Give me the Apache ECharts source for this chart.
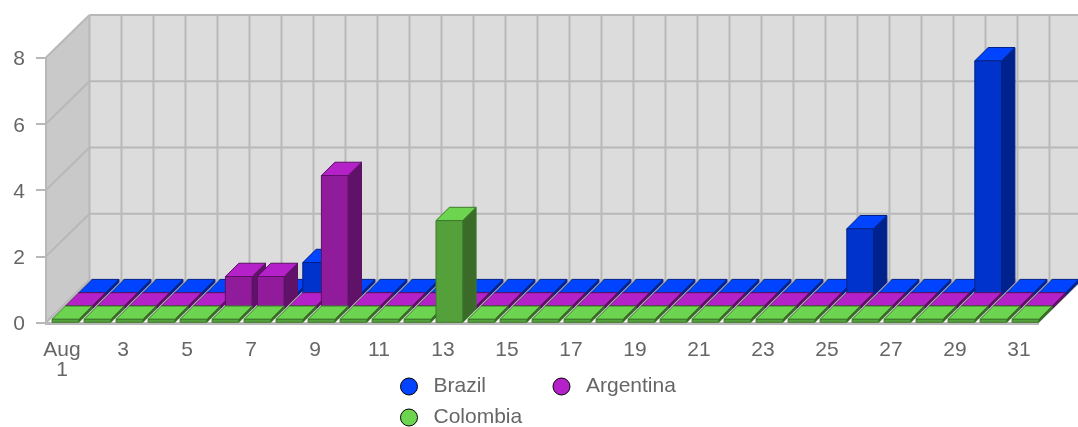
<!DOCTYPE html>
<html><head><meta charset="utf-8">
<style>html,body{margin:0;padding:0;background:#fff}#c{width:1078px;height:427px}</style>
<script src="https://cdn.jsdelivr.net/npm/echarts@6/dist/echarts.min.js"></script>
</head><body><div id="c"></div>
<script>
const days = ['Aug\n1','2','3','4','5','6','7','8','9','10','11','12','13','14','15','16','17','18','19','20','21','22','23','24','25','26','27','28','29','30','31'];
const brazil =    [0,0,0,0,0,0,0,1,0,0,0,0,0,0,0,0,0,0,0,0,0,0,0,0,2.02,0,0,0,7.09,0,0];
const argentina = [0,0,0,0,0,0.98,0.98,0,4.03,0,0,0,0,0,0,0,0,0,0,0,0,0,0,0,0,0,0,0,0,0,0];
const colombia =  [0,0,0,0,0,0,0,0,0,0,0,0,3.07,0,0,0,0,0,0,0,0,0,0,0,0,0,0,0,0,0,0];
const yTicks = [0,2,4,6,8];

const WALL_DX = 43.5, WALL_DY = -42.5, ROW_DX = 13.4, ROW_DY = -13.3, BAR_W = 26.7, BAR_X = 6, FLAT_H = 3;
const GRID_COLOR = '#b8b8b8';
const FONT = '"Liberation Sans", Arial, sans-serif';
const FS = 21;

function line(x1,y1,x2,y2,w){
  return {type:'line',shape:{x1,y1,x2,y2},style:{stroke:GRID_COLOR,lineWidth:w||2,fill:null},silent:true};
}
function poly(points,fill,stroke){
  return {type:'polygon',shape:{points},style:{fill,stroke:stroke||null,lineWidth:stroke?1:0},silent:true};
}

function renderWalls(params,api){
  const band = api.size([1,0])[0];
  const x0 = api.coord([0,0])[0]-band/2;
  const x1 = x0+band*days.length;
  const y0 = api.coord([0,0])[1];
  const yTop = api.coord([0,yTicks[yTicks.length-1]])[1];
  const c = [];
  c.push(poly([[x0+WALL_DX,yTop+WALL_DY],[x1+WALL_DX,yTop+WALL_DY],[x1+WALL_DX,y0+WALL_DY],[x0+WALL_DX,y0+WALL_DY]],'#dcdcdc'));
  c.push(poly([[x0,yTop],[x0+WALL_DX,yTop+WALL_DY],[x0+WALL_DX,y0+WALL_DY],[x0,y0]],'#c9c9c9'));
  for(let i=0;i<=days.length;i++){
    const x=x0+band*i;
    c.push(line(x+WALL_DX,yTop+WALL_DY,x+WALL_DX,y0+WALL_DY));
    c.push(line(x,y0,x+WALL_DX,y0+WALL_DY));
  }
  yTicks.forEach(t=>{
    const y=api.coord([0,t])[1];
    c.push(line(x0,y,x0+WALL_DX,y+WALL_DY));
    c.push(line(x0+WALL_DX,y+WALL_DY,x1+WALL_DX,y+WALL_DY));
  });
  c.push(line(x0,yTop,x0,y0));
  c.push(line(x0-1,y0+1,x1+1,y0+1,3));
  return {type:'group',children:c};
}

function barRenderer(row,front,top,side,stroke){
  return function(params,api){
    const band = api.size([1,0])[0];
    const p = api.coord([api.value(0),0]);
    const v = api.value(1);
    const left = p[0]-band/2+BAR_X+ROW_DX*row;
    const base = p[1]-0.2+ROW_DY*row;
    const h = Math.max(api.size([0,v])[1],FLAT_H);
    const right = left+BAR_W, t = base-h;
    return {type:'group',children:[
      poly([[right,t],[right+ROW_DX,t+ROW_DY],[right+ROW_DX,base+ROW_DY],[right,base]],side,stroke),
      poly([[left,t],[left+ROW_DX,t+ROW_DY],[right+ROW_DX,t+ROW_DY],[right,t]],top,stroke),
      poly([[left,t],[right,t],[right,base],[left,base]],front,stroke)
    ]};
  };
}
function barSeries(name,values,row,front,top,side,stroke){
  return {name,type:'custom',clip:false,coordinateSystem:'cartesian2d',itemStyle:{color:top},
    encode:{x:0,y:1},data:values.map((v,i)=>[i,v]),renderItem:barRenderer(row,front,top,side,stroke),silent:true};
}

const axisBase = {type:'category',data:days,position:'bottom',axisLine:{show:false},splitLine:{show:false}};
const legendBase = {orient:'horizontal',icon:'circle',itemWidth:17,itemHeight:17,
  textStyle:{fontFamily:FONT,fontSize:FS,color:'#666',padding:[0,0,0,11]},
  itemStyle:{borderColor:'#000',borderWidth:1},selectedMode:false};

const chart = echarts.init(document.getElementById('c'),null,{renderer:'canvas'});
chart.setOption({
  animation:false,backgroundColor:'#fff',
  grid:{left:46,right:40,top:57.5,bottom:104.5,containLabel:false},
  textStyle:{fontFamily:FONT},
  xAxis:[
    Object.assign({},axisBase,{
      axisTick:{alignWithLabel:true,interval:1,length:12.5,lineStyle:{color:GRID_COLOR,width:2}},
      axisLabel:{interval:1,margin:17.5,fontFamily:FONT,fontSize:FS,color:'#666',lineHeight:20,hideOverlap:false,
        formatter:v=>v.indexOf('\n')>=0?v:'{s|'+v+'}',
        rich:{s:{fontFamily:FONT,fontSize:FS,color:'#666',padding:[0,6,0,0]}}}
    }),
    Object.assign({},axisBase,{
      axisTick:{alignWithLabel:true,interval:0,length:7.5,lineStyle:{color:GRID_COLOR,width:2}},
      axisLabel:{show:false}
    })
  ],
  yAxis:{type:'value',min:0,max:8,interval:2,axisLine:{show:false},splitLine:{show:false},
    axisTick:{show:true,length:10,lineStyle:{color:GRID_COLOR,width:2}},
    axisLabel:{margin:21,fontFamily:FONT,fontSize:FS,color:'#666',
      formatter:v=>'{n|'+v+'}',
      rich:{n:{fontFamily:FONT,fontSize:FS,color:'#666',padding:[4,0,0,0]}}}},
  legend:[
    Object.assign({},legendBase,{data:['Brazil'],left:395,top:371}),
    Object.assign({},legendBase,{data:['Argentina'],left:547.5,top:371}),
    Object.assign({},legendBase,{data:['Colombia'],left:395,top:402})
  ],
  series:[
    {name:'walls',type:'custom',clip:false,coordinateSystem:'cartesian2d',encode:{x:0,y:1},data:[[0,0]],renderItem:renderWalls,silent:true},
    barSeries('Brazil',brazil,2,'#0033cc','#0044ff','#00228c','#002288'),
    barSeries('Argentina',argentina,1,'#901c9c','#b521c8','#601268','#5c1066'),
    barSeries('Colombia',colombia,0,'#54a13c','#6cd44f','#3a6b28','#3b7a29')
  ]
});
</script></body></html>
